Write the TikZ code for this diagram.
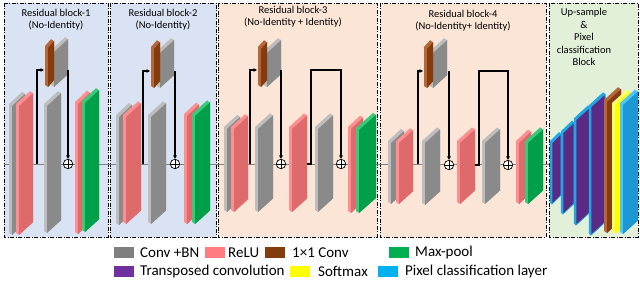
\documentclass[tikz,border=0pt]{standalone}
\usepackage{fontspec}
\setmainfont{Carlito}
\usetikzlibrary{arrows.meta}
\definecolor{bgblue}{HTML}{DAE3F3}
\definecolor{bgpeach}{HTML}{FBE5D6}
\definecolor{bggreen}{HTML}{E2F0D9}
\definecolor{grayF}{HTML}{8A8A8A}
\definecolor{grayE}{HTML}{BDBDBD}
\definecolor{redF}{HTML}{DE6A6C}
\definecolor{redE}{HTML}{FF8E90}
\definecolor{brownF}{HTML}{843C0C}
\definecolor{brownE}{HTML}{B5673A}
\definecolor{greenF}{HTML}{00A04A}
\definecolor{greenE}{HTML}{3CC878}
\definecolor{purpleF}{HTML}{5B2A85}
\definecolor{cyanE}{HTML}{1EA8E6}
\definecolor{yellowF}{HTML}{FFFF00}
\definecolor{yellowE}{HTML}{FFFF70}
\definecolor{blueF}{HTML}{1C98D4}
\definecolor{blueE}{HTML}{4FC6F5}
\definecolor{lgGray}{HTML}{7F7F7F}
\definecolor{lgRed}{HTML}{FF7C80}
\definecolor{lgGreen}{HTML}{00B050}
\definecolor{lgPurple}{HTML}{7030A0}
\definecolor{lgBlue}{HTML}{00B0F0}
% x, w, ytop, ybot, face, edge
\newcommand{\myslab}[6]{%
  \pgfmathsetmacro{\rr}{0.75*#2}%
  \fill[#6] (#1,#4-2) -- (#1,#3-2) -- (#1+#2-3,#3-\rr-2) -- (#1+#2,#3-\rr) -- (#1+#2,#4-\rr) -- (#1+3,#4) -- cycle;
  \fill[#5] (#1+3,#4) -- (#1+#2,#4-\rr) -- (#1+#2,#3-\rr) -- (#1+3,#3) -- cycle;
}
\newcommand{\myslabo}[6]{%
  \pgfmathsetmacro{\rr}{0.75*#2}%
  \filldraw[fill=#6,draw=#6,line width=0.5] (#1+1,#4-1.5) -- (#1+1,#3-1.5) -- (#1+#2-2,#3-\rr-1.5) -- (#1+#2,#3-\rr) -- (#1+#2,#4-\rr) -- (#1+3,#4) -- cycle;
  \filldraw[fill=#5,draw=#6,line width=0.6] (#1+3,#4) -- (#1+#2,#4-\rr) -- (#1+#2,#3-\rr) -- (#1+3,#3) -- cycle;
}
\begin{document}
\begin{tikzpicture}[x=1pt,y=-1pt,
  panel/.style={draw=black,line width=0.9,dash pattern=on 4pt off 1.5pt on 1pt off 1.5pt},
  title/.style={font=\fontsize{10.5}{12}\selectfont,align=center,inner sep=0},
  legtext/.style={font=\fontsize{15}{18}\selectfont,anchor=west,inner sep=0},
  swatch/.style={minimum width=20,minimum height=11,inner sep=0,draw=none},
  mainline/.style={draw=gray,line width=0.6},
  skip/.style={draw=black,line width=1.1},
  skiparrow/.style={skip,-{Triangle[length=3.5pt,width=3.5pt]}},
  plus/.style={circle,draw=black,line width=0.7,fill=white,inner sep=0,minimum size=9.5,
    path picture={\draw[line width=0.7] (path picture bounding box.north) -- (path picture bounding box.south)
      (path picture bounding box.west) -- (path picture bounding box.east);}}]
\useasboundingbox (0,0) rectangle (640,283);
\fill[white] (0,0) rectangle (640,283);
% panels
\fill[bgblue] (4,3) rectangle (108,237);
\fill[bgblue] (110,3) rectangle (216,237);
\fill[bgpeach] (218,3) rectangle (377,237);
\fill[bgpeach] (380,3) rectangle (546,237);
\fill[bggreen] (549,3) rectangle (638,237);
\draw[panel] (4,3) rectangle (108,237);
\draw[panel] (110,3) rectangle (216,237);
\draw[panel] (218,3) rectangle (377,237);
\draw[panel] (380,3) rectangle (546,237);
\draw[panel] (549,3) rectangle (638,237);
% titles
\node[title] (t1) at (56,20) {Residual block-1\\(No-Identity)};
\node[title] (t2) at (163,20) {Residual block-2\\(No-Identity)};
\node[title] (t3) at (293,16.5) {Residual block-3\\(No-Identity + Identity)};
\node[title] (t4) at (463,21) {Residual block-4\\(No-Identity+ Identity)};
\node[title,font=\fontsize{10.5}{12.5}\selectfont] (t5) at (584,37) {Up-sample\\\&\\Pixel\\classification\\Block};
% main line
\coordinate (mlA) at (4,164);
\coordinate (mlB) at (549,164);
\draw[mainline] (mlA) -- (mlB);
% ---------- block 1
\myslab{9}{16}{106}{235}{grayF}{grayE}
\myslab{16}{17}{106}{235}{redF}{redE}
\myslab{44}{17}{106}{233}{grayF}{grayE}
\myslab{75}{15}{104}{234}{redF}{redE}
\myslab{82}{17}{103}{232}{greenF}{greenE}
\myslab{51}{17}{52}{87}{grayF}{grayE}
\myslab{45}{9}{48}{87}{brownF}{brownE}
\node[plus] (s1) at (68,164) {};
\coordinate (b1o) at (37,164);
\coordinate (b1in) at (44,70);
\coordinate (b1out) at (68,70);
\draw[skiparrow] (b1o) |- (b1in);
\draw[skiparrow] (b1out) -- (s1.north);
% ---------- block 2
\myslab{116}{16}{117}{225}{grayF}{grayE}
\myslab{123}{18}{117}{224}{redF}{redE}
\myslab{148}{18}{117}{224}{grayF}{grayE}
\myslab{184}{15}{116}{224}{redF}{redE}
\myslab{192}{18}{116}{224}{greenF}{greenE}
\myslab{157}{17}{53}{88}{grayF}{grayE}
\myslab{151}{9}{49}{88}{brownF}{brownE}
\node[plus] (s2) at (175,164) {};
\coordinate (b2o) at (143,164);
\coordinate (b2in) at (150,71);
\coordinate (b2out) at (175,71);
\draw[skiparrow] (b2o) |- (b2in);
\draw[skiparrow] (b2out) -- (s2.north);
% ---------- block 3
\myslab{224}{16}{129}{212}{grayF}{grayE}
\myslab{231}{17}{129}{212}{redF}{redE}
\myslab{255}{18}{129}{212}{grayF}{grayE}
\myslab{289}{18}{129}{212}{redF}{redE}
\myslab{315}{18}{129}{212}{grayF}{grayE}
\myslab{348}{15}{129}{213}{redF}{redE}
\myslab{356}{20}{130}{213}{greenF}{greenE}
\myslab{264}{17}{53}{87}{grayF}{grayE}
\myslab{258}{9}{49}{87}{brownF}{brownE}
\node[plus] (s3) at (281,164) {};
\node[plus] (s4) at (341,164) {};
\coordinate (b3o) at (250,164);
\coordinate (b3in) at (257,70);
\coordinate (b3out) at (281,70);
\draw[skiparrow] (b3o) |- (b3in);
\draw[skiparrow] (b3out) -- (s3.north);
\coordinate (b3r) at (307,164);
\coordinate (b3up) at (311,70);
\coordinate (b3top) at (341,70);
\draw[skiparrow] (b3r) -| (b3up) -- (b3top) -- (s4.north);
% ---------- block 4
\myslab{388}{16}{143}{204}{grayF}{grayE}
\myslab{396}{17}{143}{204}{redF}{redE}
\myslab{422}{18}{143}{205}{grayF}{grayE}
\myslab{457}{18}{143}{204}{redF}{redE}
\myslab{482}{18}{143}{204}{grayF}{grayE}
\myslab{516}{15}{143}{204}{redF}{redE}
\myslab{525}{18}{143}{204}{greenF}{greenE}
\myslab{430}{17}{53}{88}{grayF}{grayE}
\myslab{424}{9}{49}{88}{brownF}{brownE}
\node[plus] (s5) at (449,165) {};
\node[plus] (s6) at (508,165) {};
\coordinate (b4o) at (418,164);
\coordinate (b4in) at (423,71);
\coordinate (b4out) at (449,71);
\draw[skiparrow] (b4o) |- (b4in);
\draw[skiparrow] (b4out) -- (s5.north);
\coordinate (b4r) at (475,165);
\coordinate (b4up) at (479,71);
\coordinate (b4top) at (508,71);
\draw[skiparrow] (b4r) -| (b4up) -- (b4top) -- (s6.north);
% ---------- up-sample block
\myslabo{549}{12}{143}{204}{purpleF}{cyanE}
\myslabo{560}{14}{133}{214}{purpleF}{cyanE}
\myslabo{573}{17}{120}{225}{purpleF}{cyanE}
\myslabo{588}{17}{107}{235}{purpleF}{cyanE}
\myslab{604}{17}{102}{233}{brownF}{brownE}
\myslab{612}{18}{105}{234}{yellowF}{yellowE}
\myslab{620}{18}{105}{234}{blueF}{blueE}
% ---------- legend
\node[swatch,fill=lgGray] (g1) at (124,252.5) {};
\node[legtext] (l1) at (140,252.5) {Conv +BN};
\node[swatch,fill=lgRed] (g2) at (214.5,252.5) {};
\node[legtext] (l2) at (228,252.5) {ReLU};
\node[swatch,fill=brownF] (g3) at (274.5,252.5) {};
\node[legtext] (l3) at (292,252.5) {1×1 Conv};
\node[swatch,fill=lgGreen] (g4) at (399,252.5) {};
\node[legtext] (l4) at (415,252.5) {Max-pool};
\node[swatch,fill=lgPurple] (g5) at (124,271.5) {};
\node[legtext] (l5) at (140,271.5) {Transposed convolution};
\node[swatch,fill=yellowF] (g6) at (300,271.5) {};
\node[legtext] (l6) at (318,271.5) {Softmax};
\node[swatch,fill=lgBlue] (g7) at (387.5,271.5) {};
\node[legtext] (l7) at (405,271.5) {Pixel classification layer};
\end{tikzpicture}
\end{document}
